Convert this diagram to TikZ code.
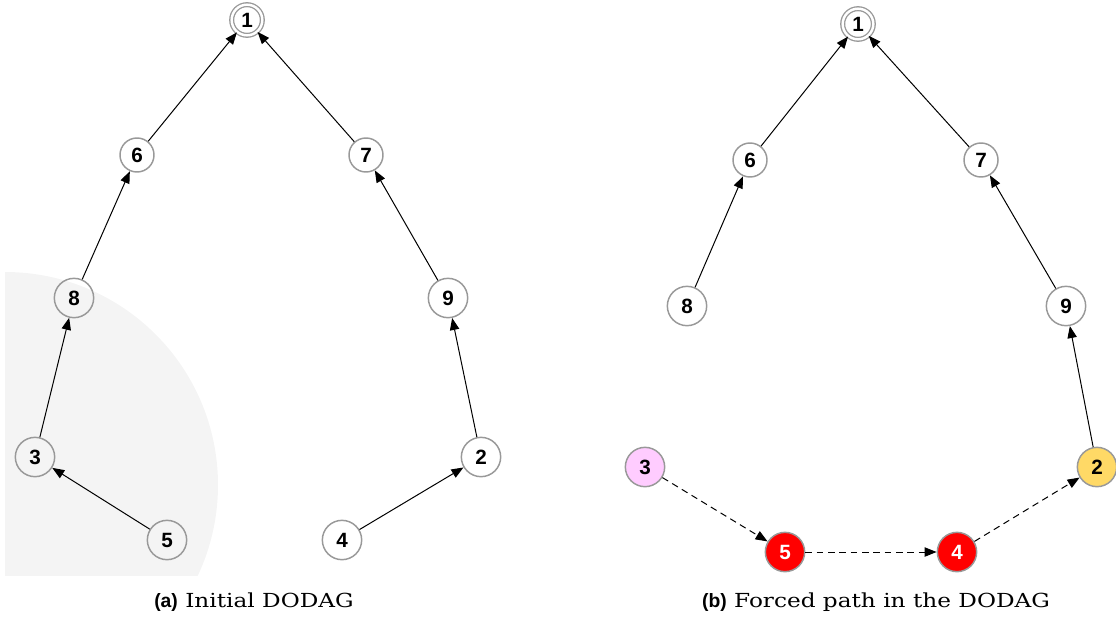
\documentclass[tikz,border=0pt]{standalone}
\usepackage{fontspec}
\setmainfont{DejaVu Serif}[FakeStretch=1.2]
\newfontfamily\nodefont{Liberation Sans}
\usetikzlibrary{arrows.meta}

\definecolor{nodeline}{HTML}{999999}
\definecolor{bggrey}{HTML}{F4F4F4}
\definecolor{pinkish}{HTML}{FFCCFF}
\definecolor{goldish}{HTML}{FFD966}

\begin{document}
\begin{tikzpicture}[x=0.75pt,y=-0.75pt,
    vtx/.style={circle,draw=nodeline,line width=1.1pt,
        minimum size=29.5pt,inner sep=0pt,
        font=\nodefont\bfseries\fontsize{15.5}{16}\selectfont},
    small/.style={minimum size=25.5pt},
    root/.style={vtx,minimum size=23pt,line width=1pt,double=white,double distance=1.8pt},
    edge/.style={-{Triangle[length=9pt,width=7pt]},line width=0.75pt},
    forced/.style={edge,dash pattern=on 5pt off 3.5pt},
    caption/.style={font=\fontsize{14.5}{16}\selectfont}]
  \useasboundingbox (0,0) rectangle (1116,621);

  % grey region behind the lower left nodes
  \begin{scope}
    \clip (5,250) rectangle (240,575);
    \fill[bggrey] (5,485) circle (213);
  \end{scope}

  % (a) initial DODAG
  \node[root] (a1) at (247,20) {1};
  \node[vtx,small] (a6) at (137,155) {6};
  \node[vtx,small] (a7) at (366,155) {7};
  \node[vtx] (a8) at (74,298) {8};
  \node[vtx] (a9) at (448,298) {9};
  \node[vtx] (a3) at (35,457) {3};
  \node[vtx] (a2) at (481,457) {2};
  \node[vtx] (a5) at (167,540) {5};
  \node[vtx] (a4) at (342,540) {4};

  \draw[edge] (a6) -- (a1);
  \draw[edge] (a7) -- (a1);
  \draw[edge] (a8) -- (a6);
  \draw[edge] (a3) -- (a8);
  \draw[edge] (a5) -- (a3);
  \draw[edge] (a9) -- (a7);
  \draw[edge] (a2) -- (a9);
  \draw[edge] (a4) -- (a2);

  \node[caption] (capa) at (254,602) {{\nodefont\bfseries (a)} Initial DODAG};

  % (b) forced path
  \node[root] (b1) at (858,24) {1};
  \node[vtx,small] (b6) at (750,160) {6};
  \node[vtx,small] (b7) at (981,160) {7};
  \node[vtx] (b8) at (687,306) {8};
  \node[vtx] (b9) at (1066,306) {9};
  \node[vtx,fill=pinkish] (b3) at (645,467) {3};
  \node[vtx,fill=goldish] (b2) at (1097,467) {2};
  \node[vtx,fill=red,text=white] (b5) at (785,552) {5};
  \node[vtx,fill=red,text=white] (b4) at (957,552) {4};

  \draw[edge] (b6) -- (b1);
  \draw[edge] (b7) -- (b1);
  \draw[edge] (b8) -- (b6);
  \draw[edge] (b9) -- (b7);
  \draw[edge] (b2) -- (b9);
  \draw[forced] (b3) -- (b5);
  \draw[forced] (b5) -- (b4);
  \draw[forced] (b4) -- (b2);

  \node[caption] (capb) at (876,602) {{\nodefont\bfseries (b)} Forced path in the DODAG};
\end{tikzpicture}
\end{document}
